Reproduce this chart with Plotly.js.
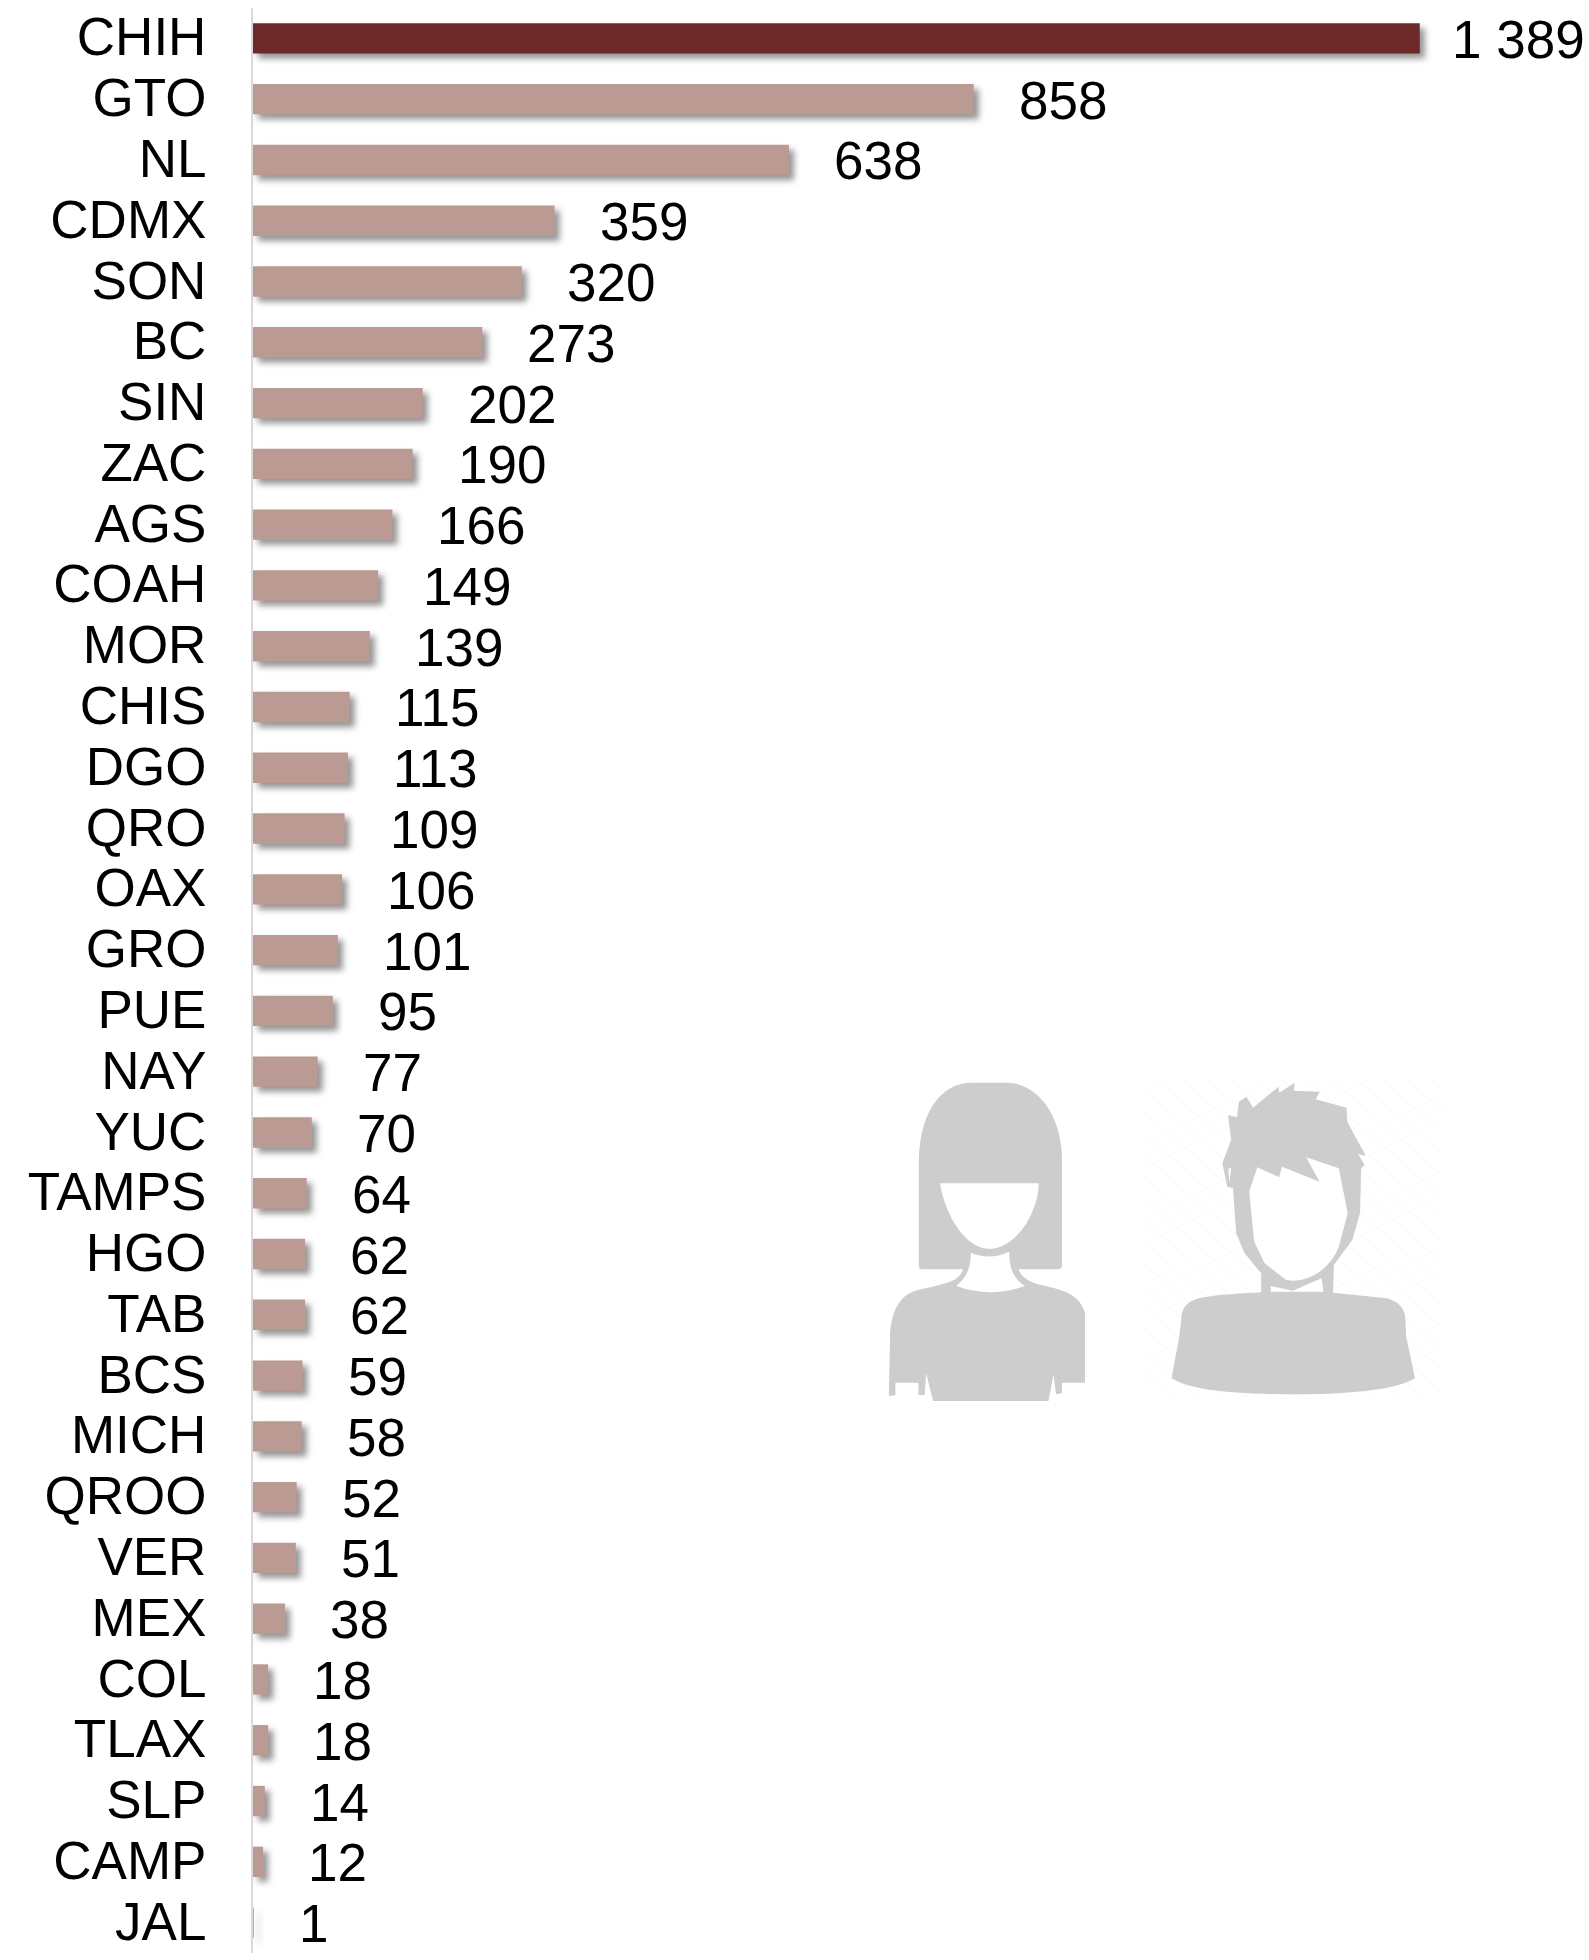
<!DOCTYPE html>
<html>
<head>
<meta charset="utf-8">
<script src="https://cdn.plot.ly/plotly-3.0.1.min.js"></script>
<style>html,body{margin:0;padding:0;background:#fff}#chart{width:1589px;height:1960px}</style>
</head>
<body>
<div id="chart"></div>
<script>
const states = ["CHIH","GTO","NL","CDMX","SON","BC","SIN","ZAC","AGS","COAH","MOR","CHIS","DGO","QRO","OAX","GRO","PUE","NAY","YUC","TAMPS","HGO","TAB","BCS","MICH","QROO","VER","MEX","COL","TLAX","SLP","CAMP","JAL"];
const cases = [1389,858,638,359,320,273,202,190,166,149,139,115,113,109,106,101,95,77,70,64,62,62,59,58,52,51,38,18,18,14,12,1];
const valueLabels = ["1 389","858","638","359","320","273","202","190","166","149","139","115","113","109","106","101","95","77","70","64","62","62","59","58","52","51","38","18","18","14","12","1"];
const darkColor = "#6E2A2A", lightColor = "#BB9A94", axisColor = "#D9D9D9", iconColor = "#CDCDCD";
const fontFamily = '"Liberation Sans", Arial, sans-serif';
const W = 1589, H = 1960, L = 253, T = 8, B = 7, pxPerUnit = 0.84;

const silhouettes = `<svg xmlns="http://www.w3.org/2000/svg" viewBox="0 0 1560 1080" preserveAspectRatio="none" width="600" height="360">
<defs><pattern id="h" width="46" height="46" patternUnits="userSpaceOnUse" patternTransform="rotate(45)"><rect width="46" height="46" fill="#fff"/><rect width="46" height="4" fill="#FAFAFA"/></pattern></defs>
<rect x="740" y="60" width="775" height="950" fill="url(#h)"/>
<path fill="${iconColor}" d="M153 300C155 150 215 68 290 68L385 68C465 72 525 170 525 300L525 618Q525 628 512 628L160 628Q153 628 153 618Z"/>
<path fill="${iconColor}" d="M78 830C80 760 100 705 150 690C190 680 230 670 248 658C262 645 268 635 268 620L410 620C415 645 430 660 460 672C500 685 570 690 585 760L585 968L525 968L525 1000L510 1003L503 945L490 1023L190 1023L172 940L168 1005L152 1005L152 968L92 968L92 1005L75 1008Z"/>
<path fill="#fff" d="M208 370L465 370C462 470 400 565 338 567C275 567 222 470 208 370Z"/>
<path fill="#fff" d="M288 578Q338 602 388 575C388 620 395 650 428 678Q338 715 250 678C280 650 288 620 288 578Z"/>
<path fill="${iconColor}" d="M1130 68L1128 92L1195 95L1185 118L1265 143L1267 185L1315 288L1295 282L1312 315L1303 325L1300 460L1280 540L1232 615L1230 698L1370 715C1400 725 1418 745 1418 780L1420 830L1443 955C1400 985 1300 1003 1130 1003C960 1003 860 990 810 955L830 830L835 780C835 745 850 725 880 715C930 703 1000 700 1043 697L1043 640L1000 580L978 520L970 385L955 380L942 310L965 240L957 165L980 172L985 125L1005 110L1022 143L1088 80L1090 98Z"/>
<path fill="#fff" d="M1033 322L1090 352L1097 320L1195 365L1160 292L1245 325L1268 460L1245 560C1220 630 1170 662 1125 662L1108 660L1052 610L1025 545L1012 395Z"/>
<path fill="#fff" d="M1068 678L1125 692L1200 655L1205 695L1068 695Z"/>
<path fill="#fff" d="M965 325L960 370L958 325Z"/>
</svg>`;

const plotW = W - L, plotH = H - T - B;

const annotations = states.map((s, i) => ({
  x: cases[i], y: s, xref: "x", yref: "y",
  text: valueLabels[i], showarrow: false,
  xanchor: "left", yanchor: "middle",
  xshift: i === 0 ? 30 : 43, yshift: -1,
  font: {family: fontFamily, size: 53, color: "#000"}
}));

const data = [{
  type: "bar", orientation: "h",
  x: cases, y: states,
  width: 0.5,
  marker: {color: states.map((s, i) => i === 0 ? darkColor : lightColor), line: {width: 0}},
  hoverinfo: "skip"
}];

const layout = {
  width: W, height: H,
  margin: {l: L, r: 0, t: T, b: B, pad: 0},
  paper_bgcolor: "#fff", plot_bgcolor: "rgba(0,0,0,0)",
  showlegend: false, hovermode: false,
  font: {family: fontFamily, color: "#000"},
  xaxis: {range: [0, plotW / pxPerUnit], visible: false, fixedrange: true},
  yaxis: {
    type: "category", categoryorder: "array", categoryarray: states,
    range: [states.length - 0.5, -0.5],
    tickmode: "array", tickvals: states, ticktext: states,
    showline: true, linecolor: axisColor, linewidth: 2,
    showgrid: false, zeroline: false, ticks: "",
    ticklabelstandoff: 34,
    tickfont: {family: fontFamily, size: 53, color: "#000"},
    automargin: false, fixedrange: true
  },
  annotations: annotations,
  images: [{
    source: "data:image/svg+xml;charset=utf-8," + encodeURIComponent(silhouettes),
    xref: "paper", yref: "paper",
    x: (860 - L) / plotW, y: (H - B - 1060) / plotH,
    sizex: 600 / plotW, sizey: 360 / plotH,
    xanchor: "left", yanchor: "top", sizing: "stretch", layer: "below"
  }]
};

Plotly.newPlot("chart", data, layout, {displayModeBar: false, staticPlot: true}).then(gd => {
  gd.querySelectorAll(".bars .point path").forEach(p => {
    p.style.filter = "drop-shadow(5px 5px 3px rgba(0,0,0,0.42))";
  });
  gd.querySelectorAll(".yaxislayer-above").forEach(g => {
    g.style.transform = "translateY(-1.5px)";
  });
});
</script>
</body>
</html>
